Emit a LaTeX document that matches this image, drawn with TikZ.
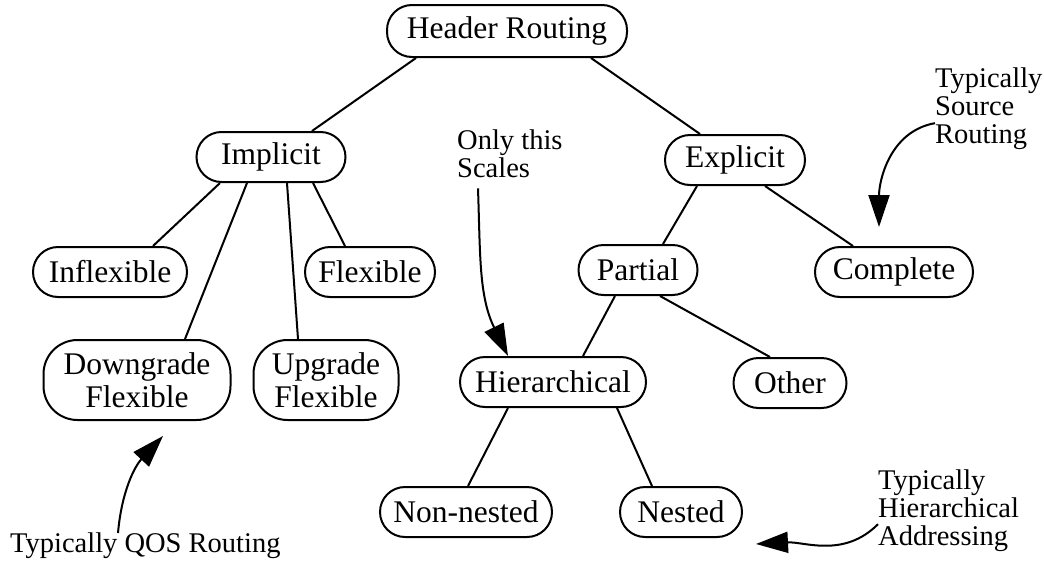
\documentclass[tikz,border=0pt]{standalone}
\usepackage{fontspec}
\setmainfont{Liberation Serif}
\usetikzlibrary{arrows.meta}
\newcommand\treefnt{\fontsize{31.5}{33}\selectfont}
\newcommand\notefnt{\fontsize{28.5}{28}\selectfont}
\tikzset{
  nd/.style={draw=black,line width=2pt,rounded corners=25pt,minimum height=50pt,inner sep=0pt,align=center,font=\treefnt},
  nd2/.style={nd,rounded corners=34pt,minimum height=80pt},
  ln/.style={line width=2pt,black},
  note/.style={inner sep=0pt,align=left,font=\notefnt},
  pnt/.style={-{Triangle[length=32pt,width=21pt]},line width=2pt,black},
}
\begin{document}
\begin{tikzpicture}[x=1pt,y=-1pt]
  \useasboundingbox (0,0) rectangle (1044,565);
  \node[nd,minimum width=240pt,minimum height=52pt] (hdr) at (507,31) {Header Routing};
  \node[nd,minimum width=149pt] (impl) at (271,157) {Implicit};
  \node[nd,minimum width=140pt] (expl) at (735,160) {Explicit};
  \node[nd,minimum width=154pt] (infl) at (110,272) {Inflexible};
  \node[nd,minimum width=130pt] (flex) at (370,272) {Flexible};
  \node[nd2,minimum width=187pt] (down) at (137,380) {Downgrade\\Flexible};
  \node[nd2,minimum width=145pt] (upg) at (326,380) {Upgrade\\Flexible};
  \node[nd,minimum width=119pt] (part) at (638,270) {Partial};
  \node[nd,minimum width=158pt] (comp) at (894,272) {Complete};
  \node[nd,minimum width=186pt] (hier) at (553,382) {Hierarchical};
  \node[nd,minimum width=113pt] (oth) at (790,383) {Other};
  \node[nd,minimum width=172pt] (nonn) at (466,512) {Non-nested};
  \node[nd,minimum width=122pt] (nest) at (681,512) {Nested};
  \foreach \a/\sa/\b/\sb in {hdr/-91/impl/41,hdr/84/expl/-35,impl/-51/infl/43,impl/-24/down/48,
      impl/16/upg/-28,impl/42/flex/-25,expl/-38/part/25,expl/30/comp/-41,
      part/-23/hier/30,part/22/oth/-20,hier/-45/nonn/2,hier/64/nest/-29}
    \draw[ln] ([xshift=\sa pt]\a.south) -- ([xshift=\sb pt]\b.north);
  \node[note,anchor=north west] (srcnote) at (935,68) {Typically\\Source\\Routing};
  \node[note,anchor=north west] (scnote) at (457,130) {Only this\\Scales};
  \node[note,anchor=north west] (adrnote) at (878,470) {Typically\\Hierarchical\\Addressing};
  \node[note,anchor=north west] (qosnote) at (10,533) {Typically QOS Routing};
  \draw[pnt] ([yshift=-14pt]srcnote.west) to[out=190,in=90] ([shift={(-15pt,19pt)}]comp.north);
  \draw[pnt] ([shift={(21pt,-10pt)}]scnote.south west) to[out=-88,in=116] ([xshift=-45pt]hier.north);
  \draw[pnt] ([yshift=-13pt]adrnote.west) to[out=225,in=3] ([shift={(13pt,-6pt)}]nest.south east);
  \draw[pnt] ([xshift=108pt]qosnote.north west) to[out=85,in=-133] ([shift={(26pt,-15pt)}]down.south);
\end{tikzpicture}
\end{document}
